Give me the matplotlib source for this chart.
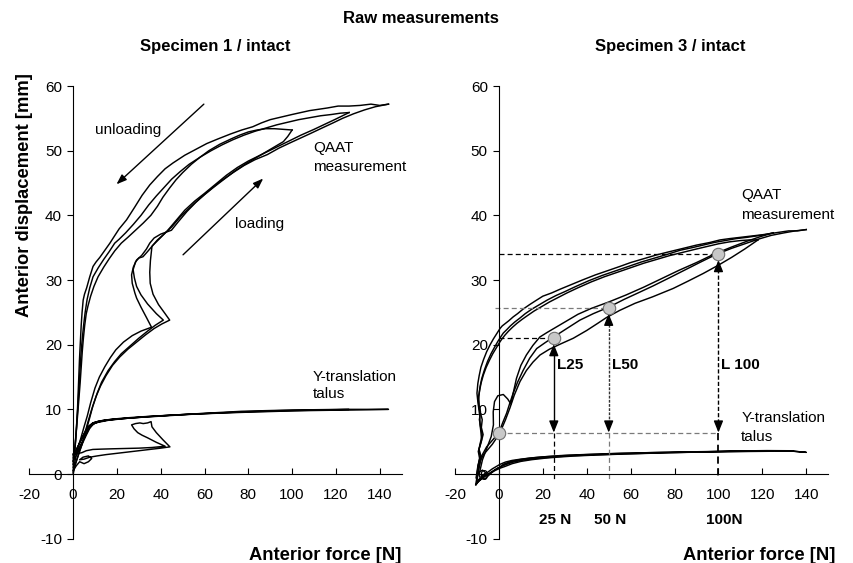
import matplotlib
matplotlib.use("Agg")
import matplotlib.pyplot as plt

plt.rcParams['font.family'] = ['Liberation Sans', 'DejaVu Sans']
plt.rcParams['axes.unicode_minus'] = False

# ---------------- data: Specimen 1 ----------------
s1_load1_F = [0, 1, 2.5, 4, 5.5, 7, 8.5, 10.5, 12.5, 15, 18, 21.3, 25, 29, 33, 37, 40.5, 44.1, 42, 39, 36.5, 35.2, 35, 35.3, 36, 38.5, 41.5, 45, 49, 53, 57.8, 62, 67, 73, 78, 83, 88.7, 94, 99, 103.5, 108, 113, 118.7, 123, 128, 133, 138, 141, 144]
s1_load1_D = [0, 1.5, 3, 4.5, 6.5, 8.3, 10, 12, 13.6, 15.2, 16.8, 18.1, 19.3, 20.4, 21.5, 22.5, 23.2, 23.8, 24.8, 26.2, 27.8, 29.5, 31.2, 33, 35.2, 36.2, 37.1, 38.2, 39.8, 41.1, 42.6, 43.8, 45.2, 46.6, 47.7, 48.6, 49.4, 50.4, 51.2, 51.9, 52.6, 53.4, 54.3, 55.0, 55.7, 56.3, 56.8, 57.0, 57.2]
s1_load2_F = [0, 1.5, 3, 4.5, 6, 7.5, 9, 11, 13, 16, 19, 22, 26, 30, 34, 37.5, 41.2, 38, 34, 31, 29, 28, 27.4, 28.5, 30, 31.9, 34, 36.5, 39.5, 43, 47, 51, 55.5, 60, 65, 70, 75, 80, 86, 92, 98, 104, 110, 115, 120, 123, 126]
s1_load2_D = [0.3, 2, 3.6, 5, 6.8, 8.6, 10.5, 12.5, 14.2, 16, 17.4, 18.6, 19.8, 21, 22.1, 23, 23.8, 24.8, 26.3, 27.7, 29, 30.3, 31.6, 32.8, 33.4, 33.6, 34.4, 35.4, 36.4, 37.6, 39.2, 40.8, 42.2, 43.4, 44.8, 46.2, 47.4, 48.4, 49.4, 50.4, 51.4, 52.4, 53.3, 54.1, 54.9, 55.4, 55.9]
s1_load3_F = [0, 1, 2, 3.5, 5, 6.5, 8, 10, 12, 14.5, 17, 19.5, 23, 27, 31, 35.8, 33.5, 31, 29, 28.2, 27, 26.7, 27.5, 29, 31.3, 33.5, 35, 37, 40, 44.9, 48, 52, 56, 60, 64, 69, 74, 79, 84, 89, 93, 96, 98, 100]
s1_load3_D = [0.6, 2.2, 3.8, 5.5, 7.3, 9, 11, 13.3, 15, 16.6, 18, 19.2, 20.4, 21.4, 22.1, 22.7, 24.2, 25.8, 27.2, 28, 29.5, 30.8, 32, 33.1, 33.8, 34.8, 35.7, 36.5, 37.1, 37.7, 39, 40.6, 42, 43.2, 44.3, 45.6, 46.9, 48.0, 49.0, 50.0, 50.8, 51.4, 52.2, 53.2]

s1_unl1_F = [144, 140, 136, 131, 126, 121, 116, 112, 108, 104, 100, 95, 90, 86, 82, 77, 72, 66, 61, 56, 51, 45.6, 42, 38.5, 35, 31.5, 28, 24.4, 21, 18.5, 16.8, 14.5, 12.2, 10.5, 9.1, 7.6, 6.2, 5.2, 4.6, 4.1, 3.7, 3.4, 3.1, 2.9, 2.6, 2.3, 2, 1.5, 0.8, 0]
s1_unl1_D = [57.2, 57.0, 57.2, 57.0, 56.9, 56.9, 56.6, 56.4, 56.2, 55.9, 55.6, 55.2, 54.8, 54.3, 53.7, 53.2, 52.6, 51.8, 51.1, 50.2, 49.3, 48.1, 47.2, 46.0, 44.7, 43.1, 41.2, 39.3, 37.9, 36.6, 35.7, 34.6, 33.5, 32.8, 32.1, 30.5, 28.8, 27.8, 26.9, 25, 23, 21, 19, 17.6, 15, 12.5, 10, 7, 4, 1.5]
s1_unl2_F = [126, 122, 118, 113, 108, 103, 98, 93, 88, 83, 78, 73, 68, 63, 58, 53, 49, 45, 41.5, 38, 34.5, 31, 27.5, 24, 21, 19, 16.5, 14, 11.5, 9.1, 7.6, 6.4, 5.5, 4.8, 4.2, 3.7, 3.3, 2.9, 2.4, 1.8, 1.2, 0.5, 0]
s1_unl2_D = [55.9, 55.8, 55.6, 55.4, 55.1, 54.8, 54.4, 54.0, 53.5, 53.0, 52.4, 51.7, 50.9, 50.0, 49.0, 47.9, 46.8, 45.6, 44.3, 43.0, 41.6, 40.0, 38.6, 37.3, 36.3, 35.7, 34.4, 33.2, 31.9, 30.5, 28.8, 27, 25, 23, 21, 19, 17, 14.5, 11.5, 8.5, 5.5, 2.5, 1]
s1_unl3_F = [100, 96, 92, 88, 84, 80, 76, 72, 67, 62, 58, 54, 50, 47, 44, 41, 38.5, 35.5, 32, 28.5, 25, 22, 19, 16.5, 14, 11.4, 9.5, 8, 6.8, 6, 5.3, 4.7, 4.2, 3.7, 3.2, 2.5, 1.8, 1, 0]
s1_unl3_D = [53.2, 53.3, 53.4, 53.4, 53.2, 52.9, 52.4, 51.8, 51.0, 50.0, 49.0, 47.9, 46.6, 45.5, 44.2, 42.8, 41.4, 40.0, 38.8, 37.7, 36.6, 35.7, 34.5, 33.3, 32.0, 30.5, 29.0, 27.5, 26.0, 24.8, 23.0, 21.0, 19.0, 16.5, 14.0, 11.0, 8.0, 4.5, 2]

s1_talA_F = [0, 1.5, 3, 5, 7, 8.5, 7, 4.5, 3, 5, 7.6, 11, 15, 20, 25, 30, 35, 40, 44.2, 41, 38, 36, 35.6, 34, 32, 30.5, 28.5, 26.7, 27.8, 29.5, 31.5, 34, 38, 42, 36, 30, 24, 18, 13, 9, 6, 4, 2.5, 1, 0]
s1_talA_D = [0.5, 1.3, 1.9, 1.6, 1.9, 2.4, 2.8, 2.6, 2.2, 2.3, 2.6, 2.8, 3.0, 3.2, 3.4, 3.6, 3.8, 4.0, 4.2, 5.3, 6.4, 7.3, 8.1, 7.9, 7.8, 7.9, 7.8, 7.6, 7.0, 6.4, 6.0, 5.6, 4.9, 4.3, 4.1, 4.0, 3.95, 3.9, 3.85, 3.8, 3.6, 3.3, 3.2, 3.0, 2.8]
s1_talB_F = [0, 1, 2.2, 3.5, 5, 6.5, 8, 9.1, 11, 14, 18, 24, 30, 36, 42.6, 50, 58, 66, 76.9, 88, 100, 112, 124, 134, 144, 136, 126, 116, 106, 96, 86, 76, 66, 56, 46, 38, 30, 23, 17, 12, 9, 7, 5.5, 4, 2.5, 1, 0]
s1_talB_D = [2.5, 3.2, 4.2, 5.2, 6.1, 6.9, 7.5, 7.9, 8.1, 8.3, 8.45, 8.6, 8.75, 8.9, 9.05, 9.2, 9.35, 9.5, 9.7, 9.8, 9.9, 9.95, 10.0, 10.0, 10.0, 9.95, 9.9, 9.85, 9.8, 9.72, 9.62, 9.52, 9.4, 9.28, 9.12, 8.98, 8.82, 8.65, 8.45, 8.2, 7.9, 7.4, 6.6, 5.6, 4.5, 3.5, 3.0]
s1_talC_F = [0, 1.5, 3, 4.5, 6, 7.5, 9, 12, 16, 22, 30, 40, 52, 64, 76, 88, 100, 112, 126, 114, 100, 86, 72, 58, 46, 34, 24, 16, 10, 7, 5, 3, 1.5, 0]
s1_talC_D = [2.0, 2.9, 3.9, 4.9, 6.0, 7.0, 7.7, 8.1, 8.35, 8.55, 8.75, 8.95, 9.2, 9.4, 9.6, 9.75, 9.85, 9.92, 9.98, 9.9, 9.8, 9.68, 9.52, 9.33, 9.12, 8.88, 8.6, 8.3, 7.9, 7.0, 5.6, 4.2, 3.3, 3.1]

# ---------------- data: Specimen 3 ----------------
s3_load1_F = [-10, -9, -8, -5.6, -2.5, 0, 1.8, 3.5, 5, 6.5, 8.5, 11, 14, 17.2, 21, 25, 30, 36.9, 43, 50, 57, 64, 70.3, 78, 85, 92, 99.2, 106, 112, 118, 124, 130, 135, 140]
s3_load1_D = [-1, 1, 2.7, 4.2, 5.4, 6.4, 8, 9.4, 11, 12.5, 14.2, 16, 17.9, 19.4, 20.3, 21.2, 22.3, 23.8, 24.8, 25.8, 27, 28.1, 29.1, 30.4, 31.6, 32.8, 34.0, 34.9, 35.6, 36.3, 36.9, 37.3, 37.6, 37.8]
s3_load2_F = [-9, -7.5, -5.5, -3.5, -2.5, -2.6, -2, -0.5, 2, 4, 5.5, 6.5, 8, 10, 12.5, 15.5, 18.7, 22, 25.5, 30, 36, 42, 50, 58, 66, 74, 82, 90, 98, 106, 113, 119, 125]
s3_load2_D = [0, 2.2, 4, 5.8, 7.6, 9.6, 11.2, 12.1, 12.3, 11.6, 10.8, 12.5, 14.8, 16.8, 18.4, 19.9, 21.2, 21.9, 22.6, 23.5, 24.7, 25.6, 26.6, 27.7, 28.9, 30.2, 31.5, 32.7, 34.0, 35.1, 36.0, 36.7, 37.3]
s3_load3_F = [-10.5, -9.5, -8.5, -7, -5, -3, -1, 1, 3, 5, 7, 9.6, 12.5, 15.5, 18.7, 23, 28, 33.9, 40, 45, 49, 55, 62, 70, 79.4, 86, 93, 100, 106, 112, 118]
s3_load3_D = [-1.5, 0.5, 2, 3, 3.8, 4.6, 5.6, 6.8, 8.4, 10.2, 12.2, 14.3, 16, 17.3, 18.4, 19.3, 20.1, 21.0, 22.2, 23.3, 24.2, 25.3, 26.4, 27.4, 28.7, 29.8, 31.0, 32.3, 33.5, 34.8, 36.2]

s3_unl1_F = [140, 136, 132, 128, 124, 120, 115, 110, 105, 100.7, 96, 90, 84, 77.9, 72, 66, 60, 55.1, 50, 44, 38, 32.3, 28, 24, 20, 17.2, 14, 11, 8.5, 6.5, 4.5, 3, 1.5, 0.5, -1, -2.5, -4, -5.6, -7, -8.2, -9, -9.6, -10, -9.6, -9.2, -8.7, -8.6, -8.2, -7.9, -8.6, -9.4, -8.8, -9.6, -10.4]
s3_unl1_D = [37.8, 37.6, 37.6, 37.4, 37.2, 37.0, 36.8, 36.6, 36.4, 36.2, 35.8, 35.4, 34.9, 34.4, 33.9, 33.3, 32.7, 32.1, 31.5, 30.8, 30.0, 29.2, 28.6, 28.0, 27.5, 26.9, 26.2, 25.5, 24.8, 24.3, 23.7, 23.3, 22.9, 22.5, 21.7, 20.9, 20.0, 18.9, 17.7, 16.5, 15.2, 14.0, 12.5, 11.2, 10.2, 8.9, 7.6, 6.5, 5.3, 4.4, 3.5, 2.4, 1.2, -0.6]
s3_unl2_F = [125, 121, 117, 113, 108, 103, 98, 93, 88, 82.5, 77, 71, 65, 59, 53, 47, 41, 35, 30, 26, 22, 18.5, 15, 12, 9.5, 7.2, 5.2, 3.5, 2, 0.8, -0.5, -2, -3.6, -5.2, -6.6, -7.8, -8.6, -9.2, -9.0, -8.4, -8.9, -8.3, -7.6, -8.5, -9.1, -8.2, -9.3, -10]
s3_unl2_D = [37.3, 37.0, 36.8, 36.6, 36.4, 36.1, 35.8, 35.4, 35.0, 34.6, 34.0, 33.4, 32.8, 32.1, 31.4, 30.7, 29.9, 29.0, 28.2, 27.6, 26.9, 26.2, 25.5, 24.8, 24.1, 23.5, 22.9, 22.3, 21.8, 21.2, 20.5, 19.6, 18.6, 17.4, 16.1, 14.8, 13.5, 12.0, 10.6, 9.6, 8.4, 7.2, 6.0, 4.8, 3.8, 2.8, 1.5, 0]
s3_unl3_F = [118, 114, 110, 105, 100, 95, 90, 84, 78, 72, 66, 60, 54, 48, 42, 36, 31, 27, 23, 19.5, 16, 13, 10.5, 8.2, 6.2, 4.4, 2.8, 1.4, 0.2, -1.2, -2.8, -4.3, -5.8, -7.1, -8.1, -8.8, -9.4, -9.1, -8.3, -7.6, -8.0, -7.2, -8.1, -9.0, -8.6, -9.6]
s3_unl3_D = [36.2, 36.2, 36.1, 35.9, 35.6, 35.2, 34.8, 34.3, 33.8, 33.2, 32.6, 31.9, 31.2, 30.5, 29.7, 28.8, 28.0, 27.3, 26.6, 25.9, 25.2, 24.5, 23.9, 23.3, 22.7, 22.1, 21.5, 20.9, 20.3, 19.5, 18.6, 17.6, 16.5, 15.3, 14.1, 12.9, 11.5, 10.2, 9.3, 8.4, 7.2, 6.1, 4.9, 3.9, 2.7, 1.0]

s3_talA_F = [-10.5, -9, -7, -5, -3, -1, 0.5, 3, 6, 10, 15, 20, 25, 32, 40, 48, 56, 65, 75, 85, 95, 105, 115, 125, 133, 140, 132, 122, 112, 102, 92, 82, 72, 62, 52, 42, 34, 27, 21, 15, 10, 6, 3, 0.5, -2, -4, -6, -8, -9.5, -10.5]
s3_talA_D = [-1.6, -1.0, -0.3, 0.3, 0.8, 1.2, 1.5, 1.85, 2.1, 2.3, 2.5, 2.65, 2.75, 2.9, 3.0, 3.1, 3.2, 3.28, 3.35, 3.42, 3.47, 3.52, 3.56, 3.58, 3.55, 3.35, 3.6, 3.62, 3.58, 3.5, 3.42, 3.33, 3.24, 3.14, 3.03, 2.9, 2.78, 2.62, 2.45, 2.22, 1.95, 1.6, 1.2, 0.9, 0.5, 0.1, -0.3, -0.8, -1.2, -1.7]
s3_talB_F = [-10, -8.5, -9.5, -7.5, -6, -8, -6.5, -4, -2, 0, 2, 5, 9, 14, 20, 28, 38, 50, 62, 75, 88, 100, 112, 125, 114, 102, 90, 78, 66, 54, 42, 32, 24, 17, 11, 6, 2, -1, -4, -7, -9, -10]
s3_talB_D = [-1.2, -0.6, 0.2, 0.6, 0.2, -0.4, -0.8, 0.0, 0.6, 1.0, 1.5, 1.9, 2.2, 2.45, 2.65, 2.85, 3.0, 3.15, 3.25, 3.35, 3.42, 3.47, 3.5, 3.52, 3.5, 3.45, 3.38, 3.3, 3.2, 3.08, 2.95, 2.8, 2.62, 2.4, 2.15, 1.8, 1.3, 0.8, 0.2, -0.4, -1.0, -1.4]

# evaluation points (force levels and displacements)
eval_F = [0, 25, 50, 100]
eval_D = [6.4, 21.0, 25.7, 34.0]
eval_labels = ['L25', 'L50', 'L 100']
force_labels = ['25 N', '50 N', '100N']

xticks = [-20, 0, 20, 40, 60, 80, 100, 120, 140]
yticks = [-10, 0, 10, 20, 30, 40, 50, 60]

# ---------------- figure ----------------
fig = plt.figure(figsize=(8.54, 5.63), dpi=100)
axL = fig.add_axes([0.0343, 0.0432, 0.436, 0.804])
axR = fig.add_axes([0.5328, 0.0432, 0.437, 0.804])

LW = 1.05
for ax in (axL, axR):
    ax.set_xlim(-20, 150)
    ax.set_ylim(-10, 60)
    ax.spines['left'].set_position(('data', 0))
    ax.spines['bottom'].set_position(('data', 0))
    ax.spines['top'].set_visible(False)
    ax.spines['right'].set_visible(False)
    for s in ('left', 'bottom'):
        ax.spines[s].set_linewidth(0.8)
    ax.set_xticks(xticks)
    ax.set_yticks(yticks)
    ax.set_xticklabels([str(t) for t in xticks])
    ax.set_yticklabels([str(t) for t in yticks])
    ax.tick_params(axis='y', direction='out', length=4, width=0.8, pad=4, labelsize=11)
    ax.tick_params(axis='x', direction='in', length=4, width=0.8, pad=10, labelsize=11)
    ax.patch.set_visible(False)

# Specimen 1 curves
for F, D in [(s1_load1_F, s1_load1_D), (s1_load2_F, s1_load2_D), (s1_load3_F, s1_load3_D),
             (s1_unl1_F, s1_unl1_D), (s1_unl2_F, s1_unl2_D), (s1_unl3_F, s1_unl3_D),
             (s1_talA_F, s1_talA_D), (s1_talB_F, s1_talB_D), (s1_talC_F, s1_talC_D)]:
    axL.plot(F, D, color='black', lw=LW, solid_joinstyle='round', clip_on=False)

# Specimen 3 curves
for F, D in [(s3_load1_F, s3_load1_D), (s3_load2_F, s3_load2_D), (s3_load3_F, s3_load3_D),
             (s3_unl1_F, s3_unl1_D), (s3_unl2_F, s3_unl2_D), (s3_unl3_F, s3_unl3_D),
             (s3_talA_F, s3_talA_D), (s3_talB_F, s3_talB_D)]:
    axR.plot(F, D, color='black', lw=LW, solid_joinstyle='round', clip_on=False)

# left panel annotations
axL.text(109.6, 50.4, 'QAAT', fontsize=11, va='center', ha='left')
axL.text(109.6, 47.5, 'measurement', fontsize=11, va='center', ha='left')
axL.text(109.6, 15.0, 'Y-translation', fontsize=11, va='center', ha='left')
axL.text(109.6, 12.3, 'talus', fontsize=11, va='center', ha='left')
axL.text(10, 53.2, 'unloading', fontsize=11, va='center', ha='left')
axL.text(73.8, 38.7, 'loading', fontsize=11, va='center', ha='left')
axL.annotate('', xy=(19.8, 44.8), xytext=(59.7, 57.2),
             arrowprops=dict(arrowstyle='-|>,head_length=0.6,head_width=0.22', color='black', lw=1.0,
                             shrinkA=0, shrinkB=0))
axL.annotate('', xy=(86.8, 45.7), xytext=(50.2, 33.9),
             arrowprops=dict(arrowstyle='-|>,head_length=0.6,head_width=0.22', color='black', lw=1.0,
                             shrinkA=0, shrinkB=0))

# right panel annotations
axR.text(110.4, 43.1, 'QAAT', fontsize=11, va='center', ha='left')
axR.text(110.4, 40.0, 'measurement', fontsize=11, va='center', ha='left')
axR.text(110.4, 8.6, 'Y-translation', fontsize=11, va='center', ha='left')
axR.text(110.4, 5.8, 'talus', fontsize=11, va='center', ha='left')

gray = '#7a7a7a'
base_D = eval_D[0]
# horizontal dashed reference lines
axR.plot([eval_F[0], eval_F[1]], [eval_D[1], eval_D[1]], color='black', lw=0.9, ls=(0, (4, 2.5)))
axR.plot([eval_F[0] - 2, eval_F[2]], [eval_D[2], eval_D[2]], color=gray, lw=0.9, ls=(0, (4, 2.5)))
axR.plot([eval_F[0], eval_F[3]], [eval_D[3], eval_D[3]], color='black', lw=0.9, ls=(0, (4, 2.5)))
axR.plot([eval_F[0], eval_F[3]], [base_D, base_D], color=gray, lw=0.9, ls=(0, (4, 2.5)))
# vertical dashed lines below baseline
vcols = ['black', gray, 'black']
vlws = [0.9, 0.9, 1.3]
for F, c, w in zip(eval_F[1:], vcols, vlws):
    axR.plot([F, F], [base_D, -1.0], color=c, lw=w, ls=(0, (4, 2.5)))
# vertical arrows (lines + heads)
arrow_ls = ['-', (0, (2, 1)), (0, (3, 1.5))]
arrow_cols = ['black', '#333333', 'black']
for F, Dtop, ls, c in zip(eval_F[1:], eval_D[1:], arrow_ls, arrow_cols):
    axR.plot([F, F], [base_D + 1.5, Dtop - 2.3], color=c, lw=1.0, ls=ls)
    axR.annotate('', xy=(F, Dtop - 0.9), xytext=(F, Dtop - 2.6),
                 arrowprops=dict(arrowstyle='-|>,head_length=0.7,head_width=0.28', color='black',
                                 lw=1.0, shrinkA=0, shrinkB=0))
    axR.annotate('', xy=(F, base_D), xytext=(F, base_D + 1.7),
                 arrowprops=dict(arrowstyle='-|>,head_length=0.7,head_width=0.28', color='black',
                                 lw=1.0, shrinkA=0, shrinkB=0))
# markers
axR.scatter(eval_F, eval_D, s=80, facecolor='#c8c8c8', edgecolor='#707070', linewidth=0.8, zorder=5)
# labels
for F, lab in zip(eval_F[1:], eval_labels):
    axR.text(F + 1.3, 16.9, lab, fontsize=11, fontweight='bold', va='center', ha='left')
for F, lab in zip([25.5, 50.5, 102.5], force_labels):
    axR.text(F, -7.1, lab, fontsize=11, fontweight='bold', va='center', ha='center')

# axis labels & titles
axL.text(1.0, -0.018, 'Anterior force [N]', transform=axL.transAxes, fontsize=13.2,
         fontweight='bold', ha='right', va='top')
axR.text(1.02, -0.018, 'Anterior force [N]', transform=axR.transAxes, fontsize=13.2,
         fontweight='bold', ha='right', va='top')
fig.text(0.029, 0.653, 'Anterior displacement [mm]', rotation=90, fontsize=13.2,
         fontweight='bold', ha='center', va='center')
fig.text(0.493, 0.968, 'Raw measurements', fontsize=12, fontweight='bold', ha='center', va='center')
fig.text(0.252, 0.917, 'Specimen 1 / intact', fontsize=12, fontweight='bold', ha='center', va='center')
fig.text(0.785, 0.917, 'Specimen 3 / intact', fontsize=12, fontweight='bold', ha='center', va='center')

fig.savefig('out.png', dpi=100)
